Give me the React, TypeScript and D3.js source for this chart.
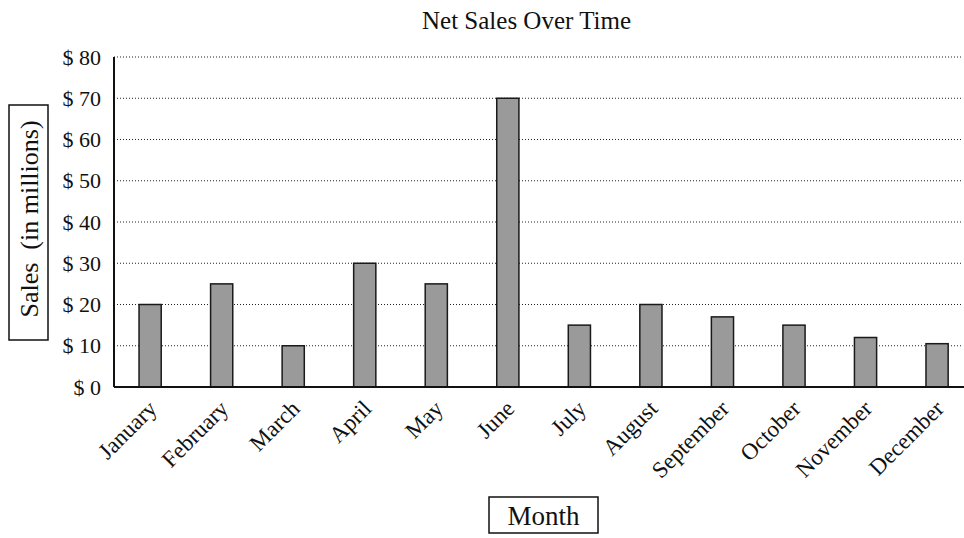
import { useEffect, useRef } from "react";
import { scaleLinear, scaleBand, select } from "d3";

const MONTHS = [
  "January", "February", "March", "April", "May", "June",
  "July", "August", "September", "October", "November", "December",
];
const SALES = [20, 25, 10, 30, 25, 70, 15, 20, 17, 15, 12, 10.5];
const Y_TICKS = [0, 10, 20, 30, 40, 50, 60, 70, 80];

const WIDTH = 964;
const HEIGHT = 538;
const LEFT = 114;
const TOP = 57;
const BOTTOM = 387;
const FONT = "'Liberation Serif', 'Times New Roman', serif";

export default function App() {
  const svgRef = useRef<SVGSVGElement>(null);

  useEffect(() => {
    const svg = select(svgRef.current);
    svg.selectAll("*").remove();

    const x = scaleBand<string>()
      .domain(MONTHS)
      .range([LEFT, LEFT + 12 * 71.6])
      .paddingInner(0.69)
      .paddingOuter(0.35);
    const y = scaleLinear().domain([0, 80]).range([BOTTOM, TOP]);

    // gridlines (dotted)
    Y_TICKS.filter((t) => t > 0).forEach((t) => {
      svg.append("line")
        .attr("x1", LEFT)
        .attr("x2", 963)
        .attr("y1", y(t))
        .attr("y2", y(t))
        .attr("stroke", "#222")
        .attr("stroke-width", 1)
        .attr("stroke-dasharray", "1,2");
    });

    // bars
    MONTHS.forEach((m, i) => {
      svg.append("rect")
        .attr("x", x(m) ?? 0)
        .attr("y", y(SALES[i]))
        .attr("width", x.bandwidth())
        .attr("height", BOTTOM - y(SALES[i]))
        .attr("fill", "#9a9a9a")
        .attr("stroke", "#1a1a1a")
        .attr("stroke-width", 1.5);
    });

    // axes lines
    svg.append("line")
      .attr("x1", LEFT).attr("x2", LEFT)
      .attr("y1", TOP).attr("y2", BOTTOM)
      .attr("stroke", "#111").attr("stroke-width", 2);
    svg.append("line")
      .attr("x1", LEFT).attr("x2", WIDTH)
      .attr("y1", BOTTOM).attr("y2", BOTTOM)
      .attr("stroke", "#111").attr("stroke-width", 2);

    // y tick labels
    Y_TICKS.forEach((t) => {
      svg.append("text")
        .attr("x", 101)
        .attr("y", y(t))
        .attr("dy", "0.35em")
        .attr("text-anchor", "end")
        .attr("font-family", FONT)
        .attr("font-size", 22)
        .attr("fill", "#111")
        .text(`$ ${t}`);
    });

    // x tick labels
    MONTHS.forEach((m) => {
      const cx = (x(m) ?? 0) + x.bandwidth() / 2 + 8;
      svg.append("text")
        .attr("transform", `translate(${cx},${BOTTOM + 23}) rotate(-45)`)
        .attr("text-anchor", "end")
        .attr("font-family", FONT)
        .attr("font-size", 23)
        .attr("fill", "#111")
        .text(m);
    });

    // title
    svg.append("text")
      .attr("x", 422)
      .attr("y", 29)
      .attr("text-anchor", "start")
      .attr("font-family", FONT)
      .attr("font-size", 25)
      .attr("fill", "#111")
      .text("Net Sales Over Time");

    // y axis title box
    svg.append("rect")
      .attr("x", 9).attr("y", 105)
      .attr("width", 39).attr("height", 235)
      .attr("fill", "none").attr("stroke", "#111").attr("stroke-width", 1.5);
    svg.append("text")
      .attr("transform", `translate(38,${219}) rotate(-90)`)
      .attr("text-anchor", "middle")
      .attr("font-family", FONT)
      .attr("font-size", 26)
      .attr("fill", "#111")
      .style("white-space", "pre")
      .text("Sales  (in millions)");

    // x axis title box
    svg.append("rect")
      .attr("x", 489).attr("y", 497)
      .attr("width", 109).attr("height", 36)
      .attr("fill", "none").attr("stroke", "#111").attr("stroke-width", 1.5);
    svg.append("text")
      .attr("x", 543.5)
      .attr("y", 525)
      .attr("text-anchor", "middle")
      .attr("font-family", FONT)
      .attr("font-size", 27)
      .attr("fill", "#111")
      .text("Month");
  }, []);

  return (
    <svg
      ref={svgRef}
      width={WIDTH}
      height={HEIGHT}
      style={{ position: "absolute", left: 0, top: 0, background: "#fff" }}
    />
  );
}
